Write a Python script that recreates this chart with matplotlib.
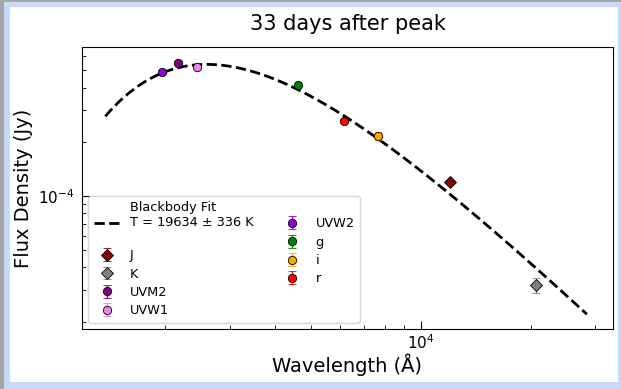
import matplotlib.pyplot as plt
import numpy as np
from matplotlib.patches import Rectangle
from matplotlib.ticker import LogLocator, NullFormatter

# photometry 33 d after peak
bands = ["J", "K", "UVM2", "UVW1", "UVW2", "g", "i", "r"]
wavelength = [12030, 20640, 2170, 2440, 1960, 4610, 7655, 6180]  # Angstrom
flux = [1.19e-4, 3.19e-5, 5.50e-4, 5.19e-4, 4.90e-4, 4.15e-4, 2.16e-4, 2.62e-4]  # Jy
flux_err = [3e-6, 3.0e-6, 1.0e-5, 8e-6, 9e-6, 6e-6, 1.1e-5, 5e-6]
colors = ["darkred", "gray", "purple", "violet", "darkviolet", "green", "orange", "red"]
markers = ["D", "D", "o", "o", "o", "o", "o", "o"]

# blackbody fit result
T_fit = 19634.0
T_err = 336.0
dilution = 1.195e-24  # (R/D)^2
wl_model_min, wl_model_max = 1370.0, 28500.0

H = 6.62607e-27
C = 2.99792458e10
K_B = 1.380649e-16


def bb_flux_jy(wl_aa, temp, scale):
    nu = C / (wl_aa * 1e-8)
    b_nu = 2 * H * nu**3 / C**2 / np.expm1(H * nu / (K_B * temp))
    return np.pi * b_nu * scale * 1e23


W, Hpx = 621, 389
fig = plt.figure(figsize=(W / 100, Hpx / 100), dpi=100)

# window frame
fig.patches.append(Rectangle((0, 0), 1, 1, transform=fig.transFigure,
                             facecolor="#c9daf8", edgecolor="none", zorder=-3))
fig.patches.append(Rectangle((0, 0), 4 / W, 1, transform=fig.transFigure,
                             facecolor="#a5a5a5", edgecolor="none", zorder=-2))
fig.patches.append(Rectangle((0, 1 - 2 / Hpx), 1, 2 / Hpx, transform=fig.transFigure,
                             facecolor="#a5a5a5", edgecolor="none", zorder=-2))
fig.patches.append(Rectangle((10 / W, 7 / Hpx), (618 - 10) / W, (382 - 7) / Hpx,
                             transform=fig.transFigure, facecolor="white",
                             edgecolor="none", zorder=-1))

ax = fig.add_axes([82 / W, 1 - 329 / Hpx, (613 - 82) / W, (329 - 47) / Hpx])
ax.set_facecolor("none")

wl_model = np.logspace(np.log10(wl_model_min), np.log10(wl_model_max), 300)
ax.plot(wl_model, bb_flux_jy(wl_model, T_fit, dilution), "k--", lw=2,
        label=f"Blackbody Fit\nT = {T_fit:.0f} ± {T_err:.0f} K\n", zorder=2)

for band, wl, f, fe, col, mk in zip(bands, wavelength, flux, flux_err, colors, markers):
    ax.errorbar(wl, f, yerr=fe, fmt=mk, color=col, ecolor=col, mec="black",
                mew=0.6, ms=6 if mk == "o" else 6.5, capsize=3, elinewidth=1,
                label=band, zorder=3)

ax.set_xscale("log")
ax.set_yscale("log")
ax.set_xlim(1183, 33590)
ax.set_ylim(1.82e-5, 6.73e-4)

for axis in (ax.xaxis, ax.yaxis):
    axis.set_major_locator(LogLocator(base=10))
    axis.set_minor_locator(LogLocator(base=10, subs=np.arange(2, 10)))
    axis.set_minor_formatter(NullFormatter())

ax.tick_params(which="both", direction="in", labelsize=11, pad=5)
ax.tick_params(axis="x", which="both", pad=3)
ax.tick_params(which="major", length=5.5, width=0.8)
ax.tick_params(which="minor", length=3, width=0.6)

ax.set_xlabel("Wavelength (Å)", fontsize=14, labelpad=1)
ax.set_ylabel("Flux Density (Jy)", fontsize=14)
ax.set_title("33 days after peak", fontsize=15, pad=12.5)

ax.legend(loc="lower left", ncol=2, fontsize=9.3, labelspacing=0.42)

fig.savefig("out.png", dpi=100)
